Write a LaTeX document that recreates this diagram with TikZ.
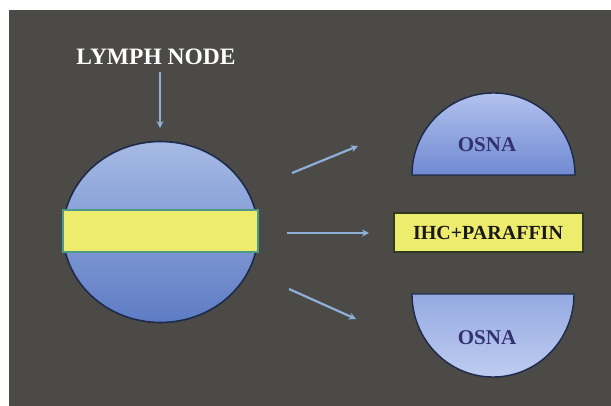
\documentclass[tikz,border=0pt]{standalone}
\usepackage{fontspec}
\setmainfont{Liberation Serif}
\usetikzlibrary{shapes.geometric,arrows.meta}
\definecolor{bgdark}{HTML}{4B4A47}
\definecolor{arrowblue}{HTML}{8EB0D8}
\definecolor{bandyellow}{HTML}{EEEC6C}
\definecolor{bandedge}{HTML}{4E9A86}
\definecolor{navyline}{HTML}{1E2A4A}
\definecolor{osnatext}{HTML}{33326E}
\definecolor{circtop}{HTML}{A6BAE4}
\definecolor{circbot}{HTML}{5E7CC4}
\definecolor{uptop}{HTML}{B2C2EE}
\definecolor{upbot}{HTML}{708AD2}
\definecolor{lowtop}{HTML}{96AAE2}
\definecolor{lowbot}{HTML}{BECCF0}
\definecolor{ihcedge}{HTML}{2F3A1E}
\tikzset{
  flowarrow/.style={draw=arrowblue, line width=2.2pt, -{Stealth[length=7pt,width=7pt]}},
  discfill/.style={draw=navyline, line width=1.4pt},
  labeltext/.style={font=\bfseries\fontsize{21}{21}\selectfont, text=osnatext, inner sep=0pt},
}
\begin{document}
\begin{tikzpicture}[x=1pt,y=-1pt]
\useasboundingbox (0,0) rectangle (611,406);
\fill[white] (0,0) rectangle (611,406);
\fill[bgdark] (9,10) rectangle (611,406);
\draw[black!70, line width=1pt] (9,10.5) -- (611,10.5);

% lymph node label and arrow
\node[text=white, font=\bfseries\fontsize{23.5}{23.5}\selectfont, inner sep=0pt] (lymph) at (156,57) {LYMPH NODE};
\coordinate (lymphtip) at (160,128);

% main node (circle)
\node[ellipse, minimum width=195pt, minimum height=181pt, draw=navyline, line width=1.6pt,
      top color=circtop, bottom color=circbot] (ln) at (160.5,232) {};
\node[rectangle, minimum width=195pt, minimum height=42pt, fill=bandyellow, draw=bandedge, line width=1.6pt, inner sep=0pt] (band) at (160.5,231) {};
\draw[flowarrow] (lymph.south -| lymphtip) ++(0,7) -- (lymphtip);

% upper OSNA half disc
\path[discfill, top color=uptop, bottom color=upbot]
  (412,175) arc[start angle=180, end angle=0, x radius=81.5, y radius=-82] -- cycle;
\node[labeltext] (osnatop) at (487,145) {OSNA};

% lower OSNA half disc
\path[discfill, top color=lowtop, bottom color=lowbot]
  (412,294) arc[start angle=180, end angle=360, x radius=81, y radius=-83] -- cycle;
\node[labeltext] (osnabot) at (487,338) {OSNA};

% IHC + paraffin band
\node[rectangle, fill=bandyellow, draw=ihcedge, line width=2pt, minimum width=189pt, minimum height=39pt, inner sep=0pt,
      font=\bfseries\fontsize{20}{20}\selectfont, text=black!90] (ihc) at (488,233) {IHC+PARAFFIN};

% arrows from the node to the pieces
\coordinate (a1s) at (292,173); \coordinate (a1e) at (358,146);
\coordinate (a2s) at (287,233); \coordinate (a2e) at (369,233);
\coordinate (a3s) at (289,289); \coordinate (a3e) at (356,319);
\draw[flowarrow] (a1s) -- (a1e);
\draw[flowarrow] (a2s) -- (a2e);
\draw[flowarrow] (a3s) -- (a3e);
\end{tikzpicture}
\end{document}
